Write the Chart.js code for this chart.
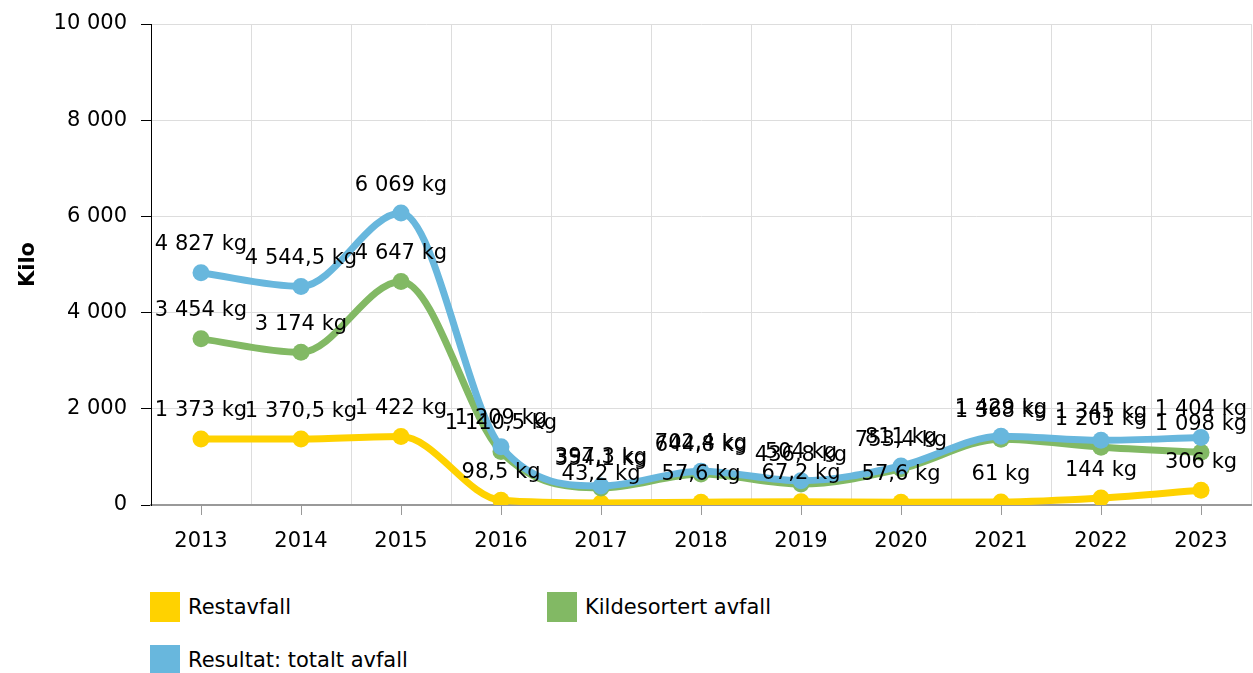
<!DOCTYPE html>
<html>
<head>
<meta charset="utf-8">
<script src="https://cdn.jsdelivr.net/npm/chart.js@4"></script>
<style>
  body { margin: 0; background: #fff; font-family: "DejaVu Sans", Verdana, sans-serif; }
  #wrap { position: relative; width: 1253px; height: 673px; }
  #box { position: absolute; left: 0; top: 0; width: 1253px; height: 570px; }
  .leg { position: absolute; display: flex; align-items: center; font-size: 21px; color: #000; }
  .leg span.sw { display: inline-block; width: 30px; height: 30px; margin-right: 8px; }
</style>
</head>
<body>
<div id="wrap">
  <div id="box"><canvas id="chart"></canvas></div>
  <div id="legend"></div>
</div>
<script>
// chart data
const years = ['2013', '2014', '2015', '2016', '2017', '2018', '2019', '2020', '2021', '2022', '2023'];
const restavfall = [1373, 1370.5, 1422, 98.5, 43.2, 57.6, 67.2, 57.6, 61, 144, 306];
const kildesortert = [3454, 3174, 4647, 1110.5, 354.1, 644.8, 436.8, 753.4, 1368, 1201, 1098];
const totalt = [4827, 4544.5, 6069, 1209, 397.3, 702.4, 504, 811, 1429, 1345, 1404];
const seriesNames = ['Restavfall', 'Kildesortert avfall', 'Resultat: totalt avfall'];
const colors = ['#FFD200', '#82B964', '#68B7DD'];

const FONT = '"DejaVu Sans", Verdana, sans-serif';

function fmt(v) {
  let parts = (Math.round(v * 10) / 10).toString().split('.');
  let whole = parts[0].replace(/\B(?=(\d{3})+(?!\d))/g, ' ');
  return parts.length > 1 ? whole + ',' + parts[1] : whole;
}

// labels above each point
const pointLabels = {
  id: 'pointLabels',
  afterDatasetsDraw(chart) {
    const ctx = chart.ctx;
    ctx.save();
    ctx.font = '21px ' + FONT;
    ctx.fillStyle = '#000';
    ctx.textAlign = 'center';
    ctx.textBaseline = 'middle';
    chart.data.datasets.forEach((ds, i) => {
      chart.getDatasetMeta(i).data.forEach((pt, j) => {
        ctx.fillText(fmt(ds.data[j]) + ' kg', pt.x, pt.y - 28);
      });
    });
    ctx.restore();
  }
};

// x tick marks under category centres
const centerTicks = {
  id: 'centerTicks',
  afterDraw(chart) {
    const x = chart.scales.x;
    const ctx = chart.ctx;
    ctx.save();
    ctx.strokeStyle = '#999';
    ctx.lineWidth = 1;
    years.forEach((y, i) => {
      const px = Math.round(x.getPixelForValue(i)) + 0.5;
      ctx.beginPath();
      ctx.moveTo(px, x.top);
      ctx.lineTo(px, x.top + 10);
      ctx.stroke();
    });
    ctx.restore();
  }
};

const series = [restavfall, kildesortert, totalt];

new Chart(document.getElementById('chart'), {
  type: 'line',
  data: {
    labels: years,
    datasets: series.map((d, i) => ({
      label: seriesNames[i],
      data: d,
      borderColor: colors[i],
      backgroundColor: colors[i],
      pointBackgroundColor: colors[i],
      pointBorderWidth: 0,
      borderWidth: 7,
      pointRadius: 8.5,
      cubicInterpolationMode: 'monotone',
      order: 2 - i
    }))
  },
  options: {
    responsive: true,
    maintainAspectRatio: false,
    animation: false,
    layout: { autoPadding: false, padding: { top: 24, right: 2, left: 12, bottom: 0 } },
    plugins: { legend: { display: false }, tooltip: { enabled: false } },
    scales: {
      x: {
        offset: true,
        grid: { offset: true, color: '#ddd', tickColor: 'rgba(0,0,0,0)', tickLength: 14 },
        border: { color: '#999', width: 2 },
        ticks: { color: '#000', font: { size: 21, family: FONT }, padding: 10, maxRotation: 0 },
        afterFit(s) { s.height = 65; s.paddingLeft = 0; s.paddingRight = 0; }
      },
      y: {
        min: 0,
        max: 10000,
        grid: { color: '#ddd', tickColor: '#000', tickLength: 10 },
        border: { color: '#000', width: 1 },
        ticks: {
          stepSize: 2000,
          color: '#000',
          padding: 14,
          font: { size: 21, family: FONT },
          callback: v => fmt(v)
        },
        title: {
          display: true,
          text: 'Kilo',
          color: '#000',
          font: { size: 21, weight: 'bold', family: FONT }
        },
        afterFit(s) { s.width = 139; s.paddingTop = 0; s.paddingBottom = 0; }
      }
    }
  },
  plugins: [pointLabels, centerTicks]
});

// legend
const legendPos = [[150, 592], [547, 592], [150, 645]];
const legend = document.getElementById('legend');
seriesNames.forEach((name, i) => {
  const div = document.createElement('div');
  div.className = 'leg';
  div.style.left = legendPos[i][0] + 'px';
  div.style.top = legendPos[i][1] + 'px';
  div.innerHTML = `<span class="sw" style="background:${colors[i]}"></span>${name}`;
  legend.appendChild(div);
});
</script>
</body>
</html>
